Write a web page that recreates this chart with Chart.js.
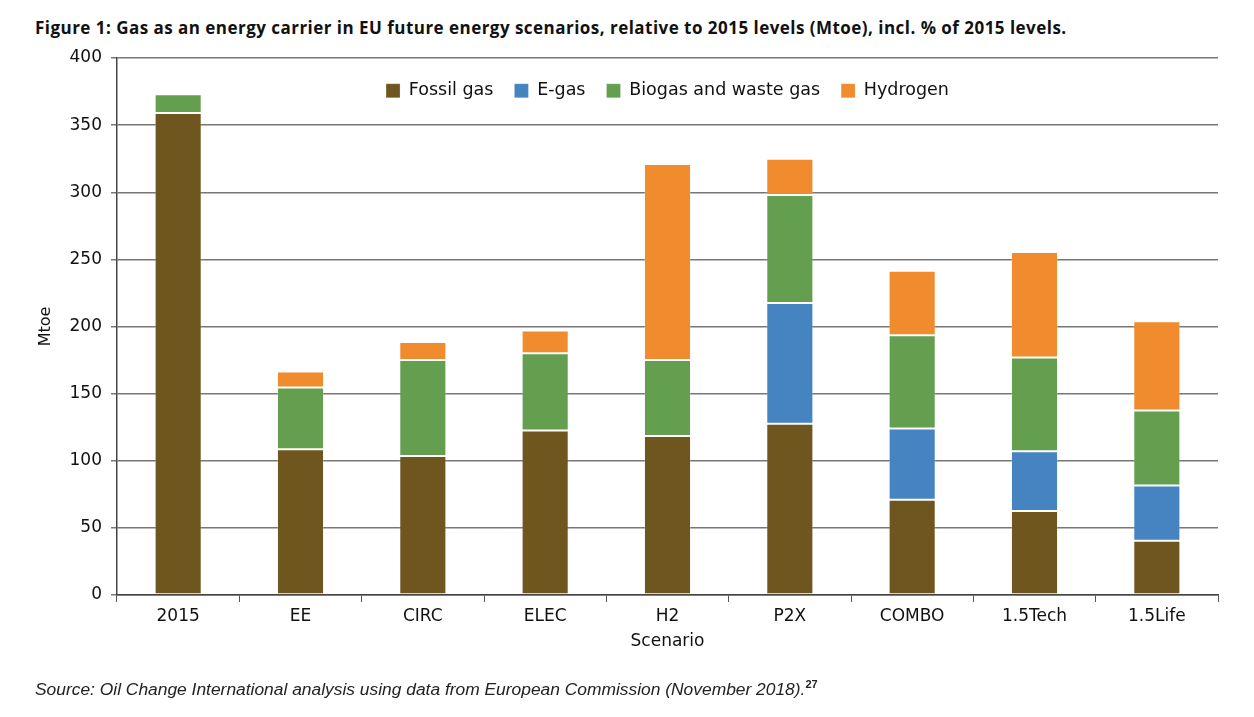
<!DOCTYPE html>
<html>
<head>
<meta charset="utf-8">
<script src="https://cdn.jsdelivr.net/npm/chart.js@4/dist/chart.umd.min.js"></script>
<style>
  html, body { margin: 0; padding: 0; background: #fff; }
  #wrap { position: relative; width: 1254px; height: 717px; overflow: hidden; }
  #chartTitle {
    position: absolute; left: 35px; top: 16px;
    font-family: "Open Sans", Lato, sans-serif; font-weight: bold; font-size: 17px; color: #111;
    letter-spacing: 0.47px; white-space: nowrap;
  }
  #source {
    position: absolute; left: 35px; top: 678px;
    font-family: "Liberation Sans Narrow", "Liberation Sans", sans-serif; font-style: italic; font-size: 17.4px; color: #222;
    white-space: nowrap;
  }
  #source sup { font-size: 11px; font-weight: bold; font-style: normal; }
  canvas { position: absolute; left: 0; top: 0; }
</style>
</head>
<body>
<div id="wrap">
  <div id="chartTitle">Figure 1: Gas as an energy carrier in EU future energy scenarios, relative to 2015 levels (Mtoe), incl. % of 2015 levels.</div>
  <canvas id="gasChart" width="1254" height="717"></canvas>
  <div id="source">Source: Oil Change International analysis using data from European Commission (November 2018).<sup>27</sup></div>
</div>
<script>
// ---- data (Mtoe) ----
var scenarios = ['2015', 'EE', 'CIRC', 'ELEC', 'H2', 'P2X', 'COMBO', '1.5Tech', '1.5Life'];
var fossilGas = [359, 108.5, 103.5, 122.5, 118.5, 127.5, 71, 62.5, 40.5];
var eGas      = [null, null, null, null, null, 90, 53, 44.5, 41];
var biogas    = [14, 46, 71.5, 57.5, 56.5, 80.5, 69.5, 70, 56];
var hydrogen  = [null, 12, 13.5, 17, 146, 27, 48, 78.5, 66.5];
var yTicks    = [0, 50, 100, 150, 200, 250, 300, 350, 400];

// ---- colours ----
var fossilColor = '#6f561e';
var eGasColor = '#4583c1';
var bioColor = '#649e4f';
var h2Color = '#f18c2e';

var chartFont = 'DejaVu Sans, Lato, sans-serif';
var tickFont = { family: chartFont, size: 17 };

function ds(label, data, color) {
    return {
        label: label,
        data: data,
        backgroundColor: color,
        borderColor: 'rgba(255,255,255,0.22)',
        borderWidth: 1,
        borderSkipped: false,
        categoryPercentage: 1.0,
        barPercentage: 0.385
    };
}

// legend sits inside the plot, just under the 400 line
var legendInside = {
    id: 'legendInside',
    afterLayout: function (chart) {
        var lg = chart.legend;
        if (!lg) return;
        lg.top = chart.chartArea.top + 3;
        lg.bottom = lg.top + 60;
    }
};

var ctx = document.getElementById('gasChart').getContext('2d');
var gasChart = new Chart(ctx, {
    type: 'bar',
    data: {
        labels: scenarios,
        datasets: [
            ds('Fossil gas', fossilGas, fossilColor),
            ds('E-gas', eGas, eGasColor),
            ds('Biogas and waste gas', biogas, bioColor),
            ds('Hydrogen', hydrogen, h2Color)
        ]
    },
    plugins: [legendInside],
    options: {
        responsive: false,
        animation: false,
        devicePixelRatio: 1,
        layout: { padding: { left: 30, right: 36, top: 57, bottom: 62 } },
        plugins: {
            title: { display: false },
            tooltip: { enabled: false },
            legend: {
                display: true,
                position: 'top',
                fullSize: false,
                align: 'center',
                maxHeight: 1,
                labels: {
                    boxWidth: 14,
                    boxHeight: 14,
                    padding: 21,
                    color: '#111',
                    font: { family: chartFont, size: 17.5 }
                }
            }
        },
        scales: {
            x: {
                stacked: true,
                grid: {
                    display: true,
                    drawOnChartArea: false,
                    offset: true,
                    tickLength: 7,
                    color: '#555'
                },
                border: { display: true, color: '#444', width: 1.5 },
                ticks: { color: '#111', font: tickFont, padding: 4 },
                title: {
                    display: true,
                    text: 'Scenario',
                    color: '#111',
                    font: tickFont,
                    padding: { top: 2, bottom: 3 }
                },
                afterFit: function (s) { s.height = 60; }
            },
            y: {
                stacked: true,
                min: 0,
                max: 400,
                afterBuildTicks: function (s) {
                    s.ticks = yTicks.map(function (v) { return { value: v }; });
                },
                grid: { color: '#777', lineWidth: 1.5, tickLength: 6 },
                border: { display: true, color: '#444', width: 1.5 },
                ticks: { color: '#111', font: tickFont, padding: 9 },
                title: {
                    display: true,
                    text: 'Mtoe',
                    color: '#111',
                    font: { family: chartFont, size: 16 },
                    padding: { top: 6, bottom: 0 }
                },
                afterFit: function (s) { s.width = 87; }
            }
        }
    }
});
</script>
</body>
</html>
